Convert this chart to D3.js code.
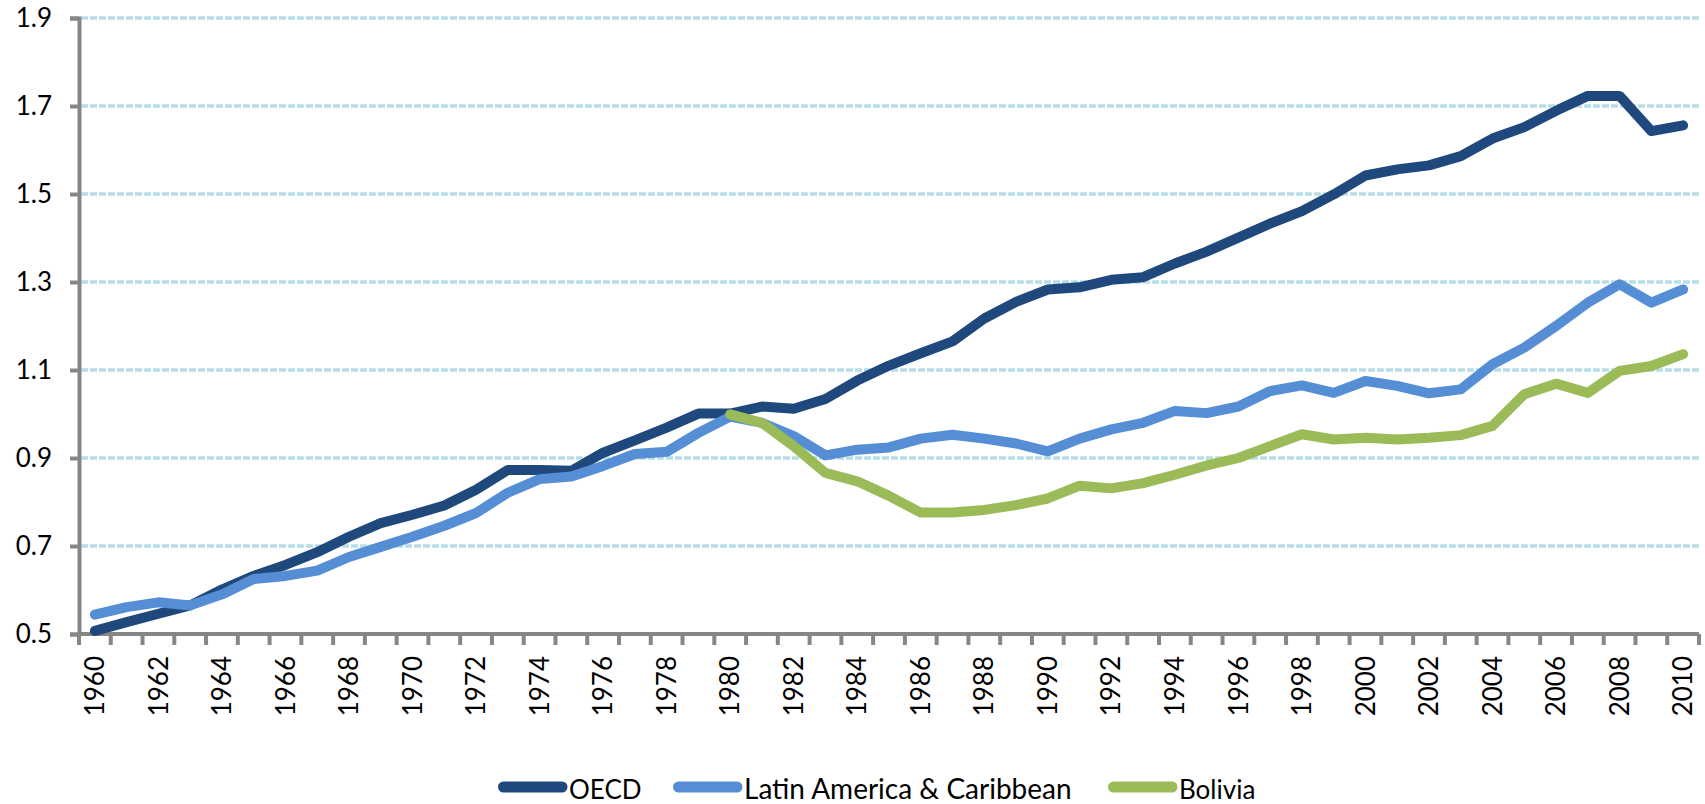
<!DOCTYPE html>
<html>
<head>
<meta charset="utf-8">
<script src="https://cdn.jsdelivr.net/npm/d3@7"></script>
<style>
  html, body { margin: 0; padding: 0; background: #fff; }
  svg text { font-family: Lato, "Open Sans", sans-serif; fill: #000; }
</style>
</head>
<body>
<svg id="chart" width="1705" height="804"></svg>
<script>
const years = d3.range(1960, 2011);
const yTicks = [0.5, 0.7, 0.9, 1.1, 1.3, 1.5, 1.7, 1.9];
const seriesNames = ["OECD", "Latin America & Caribbean", "Bolivia"];
const seriesColors = ["#1F497D", "#558ED5", "#9BBB59"];

const oecd = [0.507, 0.527, 0.546, 0.565, 0.601, 0.632, 0.657, 0.686, 0.721, 0.752,
  0.771, 0.792, 0.828, 0.873, 0.873, 0.871, 0.912, 0.940, 0.969, 1.001,
  1.001, 1.017, 1.012, 1.034, 1.076, 1.110, 1.138, 1.165, 1.217, 1.255,
  1.283, 1.288, 1.305, 1.311, 1.342, 1.369, 1.401, 1.433, 1.461, 1.499,
  1.542, 1.556, 1.565, 1.586, 1.626, 1.652, 1.689, 1.723, 1.723, 1.643, 1.656];

const latam = [0.544, 0.561, 0.572, 0.565, 0.590, 0.625, 0.632, 0.644, 0.675, 0.698,
  0.721, 0.746, 0.775, 0.821, 0.852, 0.858, 0.882, 0.909, 0.914, 0.957,
  0.994, 0.980, 0.950, 0.906, 0.919, 0.924, 0.944, 0.953, 0.944, 0.933,
  0.915, 0.944, 0.965, 0.980, 1.007, 1.002, 1.017, 1.052, 1.065, 1.048,
  1.075, 1.064, 1.047, 1.056, 1.113, 1.151, 1.200, 1.253, 1.295, 1.253, 1.283];

// Bolivia series starts in 1980
const bolivia = [null, null, null, null, null, null, null, null, null, null,
  null, null, null, null, null, null, null, null, null, null,
  0.999, 0.980, 0.927, 0.866, 0.847, 0.814, 0.776, 0.776, 0.782, 0.793,
  0.808, 0.837, 0.831, 0.843, 0.862, 0.883, 0.900, 0.927, 0.954, 0.942,
  0.946, 0.942, 0.946, 0.952, 0.973, 1.045, 1.069, 1.048, 1.098, 1.109, 1.136];

const seriesValues = [oecd, latam, bolivia];

const svg = d3.select("#chart");
const plotLeft = 79, plotRight = 1699, plotTop = 18, plotBottom = 634;

const x = d3.scaleBand().domain(years).range([plotLeft, plotRight]).padding(0);
const y = d3.scaleLinear().domain([0.5, 1.9]).range([plotBottom, plotTop]);
const cx = yr => x(yr) + x.bandwidth() / 2;

// gridlines
svg.append("g").selectAll("line")
  .data(yTicks.filter(t => t > 0.5))
  .join("line")
  .attr("x1", plotLeft + 2).attr("x2", plotRight)
  .attr("y1", d => y(d)).attr("y2", d => y(d))
  .attr("stroke", "#B7DEE8").attr("stroke-width", 3.5)
  .attr("stroke-dasharray", "7,2");

// y axis
const yAxis = d3.axisLeft(y).tickValues(yTicks).tickFormat(d3.format(".1f"))
  .tickSize(9).tickPadding(18);
const gy = svg.append("g").attr("transform", `translate(${plotLeft},0)`).call(yAxis);
gy.select(".domain").attr("stroke", "#868686").attr("stroke-width", 4);
gy.selectAll(".tick line").attr("stroke", "#868686").attr("stroke-width", 4);
gy.selectAll(".tick text").style("font-size", "26px").attr("fill", "#000")
  .attr("font-family", "Lato");

// x axis: ticks at category boundaries, labels every 2 years
const gx = svg.append("g").attr("transform", `translate(0,${plotBottom})`);
gx.append("line").attr("x1", plotLeft - 2).attr("x2", plotRight)
  .attr("y1", 0).attr("y2", 0)
  .attr("stroke", "#868686").attr("stroke-width", 4);
const boundaries = years.map(yr => x(yr)).concat([plotRight]);
gx.selectAll("line.tk").data(boundaries).join("line").attr("class", "tk")
  .attr("x1", d => d).attr("x2", d => d).attr("y1", 0).attr("y2", 11)
  .attr("stroke", "#868686").attr("stroke-width", 4);
gx.selectAll("text").data(years.filter(yr => yr % 2 === 0)).join("text")
  .attr("transform", d => `translate(${cx(d)},22) rotate(-90)`)
  .attr("text-anchor", "end")
  .attr("dy", "0.35em")
  .style("font-size", "26px")
  .text(d => d);

// lines
const line = d3.line()
  .defined(d => d.v !== null)
  .x(d => cx(d.yr))
  .y(d => y(d.v));

seriesValues.forEach((vals, i) => {
  svg.append("path")
    .datum(years.map((yr, j) => ({ yr, v: vals[j] })))
    .attr("fill", "none")
    .attr("stroke", seriesColors[i])
    .attr("stroke-width", 10)
    .attr("stroke-linejoin", "round")
    .attr("stroke-linecap", "round")
    .attr("d", line);
});

// legend
const legendX = [498, 673, 1108];
const legendY = 787;
const lg = svg.append("g");
seriesNames.forEach((name, i) => {
  const g = lg.append("g");
  g.append("line")
    .attr("x1", legendX[i] + 5.5).attr("x2", legendX[i] + 64)
    .attr("y1", legendY).attr("y2", legendY)
    .attr("stroke", seriesColors[i]).attr("stroke-width", 11)
    .attr("stroke-linecap", "round");
  g.append("text")
    .attr("x", legendX[i] + 71).attr("y", legendY + 12)
    .style("font-size", i === 1 ? "28px" : "26px")
    .text(name);
});
</script>
</body>
</html>
